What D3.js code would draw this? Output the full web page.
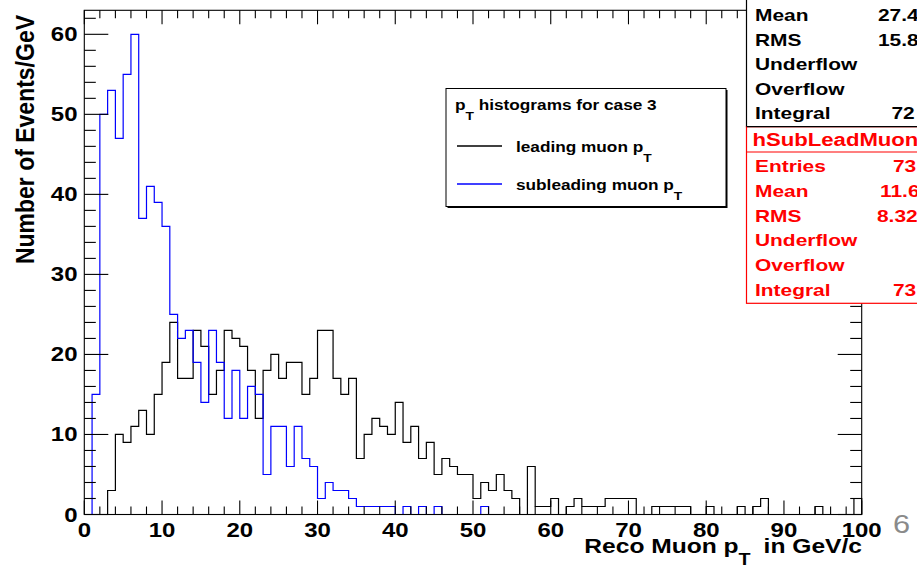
<!DOCTYPE html>
<html>
<head>
<meta charset="utf-8">
<script src="https://cdn.jsdelivr.net/npm/d3@7"></script>
<style>
  html, body { margin: 0; padding: 0; background: #fff; }
  svg { display: block; }
  text { font-family: "Liberation Sans", Arial, sans-serif; }
</style>
</head>
<body>
<script>
// Muon pT spectra, 1 GeV bins from 0 to 100 GeV/c
const binLow = 0, binHigh = 100, binWidth = 1;

// leading muon pT, counts per bin
const leadingCounts = [
  0, 0, 0, 3, 10, 9, 11, 13, 10, 15,
  19, 24, 17, 17, 23, 21, 15, 18, 23, 22,
  21, 18, 12, 18, 20, 17, 19, 19, 15, 17,
  23, 23, 17, 15, 17, 7, 10, 12, 11, 10,
  14, 9, 11, 7, 9, 5, 7, 6, 5, 5,
  2, 4, 3, 5, 3, 2, 0, 6, 1, 1,
  2, 0, 1, 2, 1, 1, 1, 2, 2, 2,
  2, 0, 0, 1, 1, 1, 1, 1, 0, 0,
  1, 0, 0, 0, 1, 0, 1, 2, 0, 0,
  0, 0, 0, 0, 1, 0, 0, 0, 0, 2
];

// subleading muon pT, counts per bin
const subleadingCounts = [
  0, 15, 50, 53, 47, 55, 60, 37, 41, 39,
  36, 25, 22, 23, 19, 14, 23, 19, 12, 18,
  12, 16, 15, 5, 11, 11, 6, 11, 7, 6,
  2, 4, 3, 3, 2, 1, 1, 1, 1, 1,
  0, 1, 0, 1, 0, 1, 0, 0, 0, 0,
  0, 1, 0, 0, 0, 0, 0, 0, 0, 0,
  0, 0, 0, 0, 0, 0, 0, 0, 0, 0,
  0, 0, 0, 0, 0, 0, 0, 0, 0, 0,
  0, 0, 0, 0, 0, 0, 0, 0, 0, 0,
  0, 0, 0, 0, 0, 0, 0, 0, 0, 0
];

const yMax = 63;
const xTickValues = [0, 10, 20, 30, 40, 50, 60, 70, 80, 90, 100];
const yTickValues = [0, 10, 20, 30, 40, 50, 60];

const xTitle = ["Reco Muon p", "T", " in GeV/c"];
const yTitle = "Number of Events/GeV";
const legendHeader = ["p", "T", " histograms for case 3"];
const legendLabels = [["leading muon p", "T"], ["subleading muon p", "T"]];
const seriesColors = ["#000000", "#0000ff"];

const statsLeading = [["Mean", "27.4"], ["RMS", "15.8"], ["Underflow", ""], ["Overflow", ""], ["Integral", "72"]];
const statsSubleadingTitle = "hSubLeadMuon";
const statsSubleading = [["Entries", "73"], ["Mean", "11.6"], ["RMS", "8.32"], ["Underflow", ""], ["Overflow", ""], ["Integral", "73"]];
const pageNumber = "6";

// ---------------------------------------------------------------
const W = 917, H = 568;
const SX = 1.23; // horizontal stretch of the lettering

const svg = d3.select("body").append("svg")
  .attr("width", W).attr("height", H)
  .attr("viewBox", `0 0 ${W} ${H}`);

const frame = { left: 84.3, right: 861.7, top: 10.3, bottom: 514.5 };
const x = d3.scaleLinear().domain([binLow, binHigh]).range([frame.left, frame.right]);
const y = d3.scaleLinear().domain([0, yMax]).range([frame.bottom, frame.top]);

// text helper: pieces = [main, subscript, rest]
function label(g, px, py, pieces, o) {
  const sx = o.sx || SX;
  const t = g.append("text")
    .attr("transform", `translate(${px},${py}) scale(${sx},1)` + (o.rotate ? ` rotate(${o.rotate})` : ""))
    .attr("font-size", o.size)
    .attr("font-weight", o.weight || "bold")
    .attr("fill", o.fill || "#000")
    .attr("text-anchor", o.anchor || "start");
  if (typeof pieces === "string") pieces = [pieces];
  t.append("tspan").text(pieces[0]);
  if (pieces.length > 1) {
    const dy = o.size * (o.subDrop || 0.72);
    t.append("tspan").attr("dy", dy).attr("font-size", o.size * 0.8).text(pieces[1]);
    if (pieces[2] !== undefined) t.append("tspan").attr("dy", -dy).attr("dx", o.gap || 0).text(pieces[2]);
  }
  return t;
}

// ---------- histograms ----------
function stepPath(counts) {
  const pts = [[binLow, 0]];
  counts.forEach((c, i) => {
    const lo = binLow + i * binWidth, hi = lo + binWidth;
    pts.push([lo, c], [hi, c]);
  });
  pts.push([binHigh, 0]);
  return d3.line().x(d => x(d[0])).y(d => y(d[1]))(pts);
}

const plot = svg.append("g");
[leadingCounts, subleadingCounts].forEach((counts, k) => {
  plot.append("path")
    .attr("d", stepPath(counts))
    .attr("fill", "none")
    .attr("stroke", seriesColors[k])
    .attr("stroke-width", 1.2)
    .attr("stroke-linejoin", "miter");
});

// ---------- frame and ticks ----------
const axes = svg.append("g").attr("stroke", "#000").attr("stroke-width", 1.1);
axes.append("rect")
  .attr("x", frame.left).attr("y", frame.top)
  .attr("width", frame.right - frame.left).attr("height", frame.bottom - frame.top)
  .attr("fill", "none");

d3.range(binLow, binHigh + 0.001, 2).forEach(v => {
  const major = v % 10 === 0;
  const len = major ? 14 : 8;
  const xv = x(v);
  axes.append("line").attr("x1", xv).attr("x2", xv).attr("y1", frame.bottom).attr("y2", frame.bottom - len);
  axes.append("line").attr("x1", xv).attr("x2", xv).attr("y1", frame.top).attr("y2", frame.top + len);
});
d3.range(0, yMax, 2).forEach(v => {
  const major = v % 10 === 0;
  const len = major ? 24 : 11.5;
  const yv = y(v);
  axes.append("line").attr("x1", frame.left).attr("x2", frame.left + len).attr("y1", yv).attr("y2", yv);
  axes.append("line").attr("x1", frame.right).attr("x2", frame.right - len).attr("y1", yv).attr("y2", yv);
});

// tick labels
const labels = svg.append("g");
xTickValues.forEach(v => label(labels, x(v), 536.5, String(v), { size: 19.5, anchor: "middle" }));
yTickValues.forEach(v => label(labels, 77.5, y(v) + 7, String(v), { size: 19.5, anchor: "end" }));

// axis titles
label(labels, 862, 552.5, xTitle, { size: 20, anchor: "end", gap: 5, subDrop: 0.62 });
label(labels, 34, 15, yTitle, { size: 23, sx: 1.12, anchor: "end", rotate: -90 });

// ---------- legend ----------
const leg = svg.append("g");
leg.append("rect").attr("x", 447.5).attr("y", 90).attr("width", 280).attr("height", 118)
  .attr("fill", "#000");
leg.append("rect").attr("x", 446).attr("y", 88.5).attr("width", 280).attr("height", 118)
  .attr("fill", "#fff").attr("stroke", "#000").attr("stroke-width", 1);
label(leg, 455, 109.5, legendHeader, { size: 14 });
legendLabels.forEach((lab, i) => {
  const ly = 146 + i * 38;
  leg.append("line").attr("x1", 457).attr("x2", 502).attr("y1", ly).attr("y2", ly)
    .attr("stroke", seriesColors[i]).attr("stroke-width", 1.3);
  label(leg, 516, ly + 5.5, lab, { size: 14 });
});

// ---------- statistics boxes ----------
const st = svg.append("g");
st.append("rect").attr("x", 746.5).attr("y", -5).attr("width", 200).attr("height", 131.7)
  .attr("fill", "#fff").attr("stroke", "#000").attr("stroke-width", 1.2);
statsLeading.forEach((r, i) => {
  const ry = 15 + i * 24.6 + 6;
  label(st, 755, ry, r[0], { size: 17 });
  if (r[1]) label(st, r[0] === "Integral" ? 891.5 : 878, ry, r[1], { size: 17 });
});

st.append("rect").attr("x", 746.5).attr("y", 126.7).attr("width", 200).attr("height", 176.6)
  .attr("fill", "#fff").attr("stroke", "#ff0000").attr("stroke-width", 1.2);
st.append("line").attr("x1", 746.5).attr("x2", 946).attr("y1", 126.7).attr("y2", 126.7)
  .attr("stroke", "#000").attr("stroke-width", 1.2);
label(st, 752.5, 146, statsSubleadingTitle, { size: 18, fill: "#ff0000" });
st.append("line").attr("x1", 746.5).attr("x2", 946).attr("y1", 152).attr("y2", 152)
  .attr("stroke", "#ff0000").attr("stroke-width", 1.2);
statsSubleading.forEach((r, i) => {
  const ry = 165.7 + i * 24.9 + 6;
  label(st, 755, ry, r[0], { size: 17, fill: "#ff0000" });
  if (r[1]) {
    const vx = (r[0] === "Entries" || r[0] === "Integral") ? 893 : (r[0] === "RMS" ? 877 : 880);
    label(st, vx, ry, r[1], { size: 17, fill: "#ff0000" });
  }
});

// slide page number
label(svg, 893, 533, pageNumber, { size: 25, weight: "normal", fill: "#8a8a8a" });
</script>
</body>
</html>
